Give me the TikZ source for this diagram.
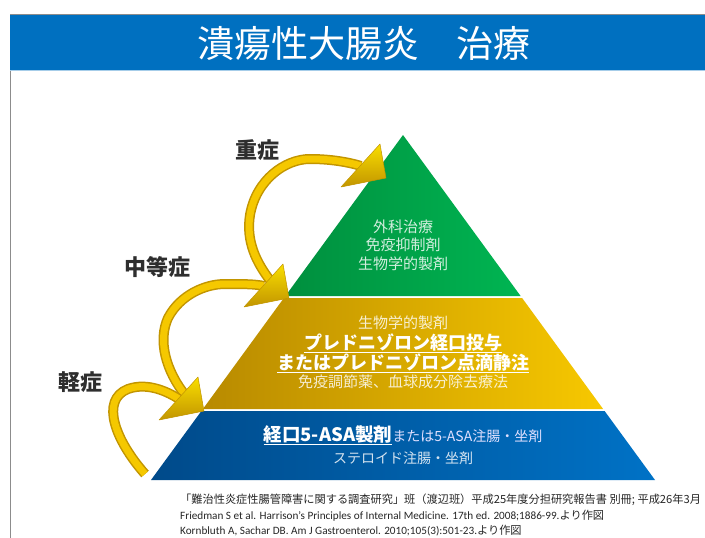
\documentclass[tikz,border=0pt]{standalone}
\usepackage{fontspec}
\setmainfont{Carlito}
\newfontfamily\jp{Noto Sans CJK JP}
\usetikzlibrary{calc}
\definecolor{titleblue}{HTML}{0070C0}
\definecolor{greenA}{HTML}{008F3E}
\definecolor{greenB}{HTML}{00B552}
\definecolor{goldA}{HTML}{B88A00}
\definecolor{goldB}{HTML}{F7C800}
\definecolor{blueA}{HTML}{004A8A}
\definecolor{blueB}{HTML}{0072C6}
\definecolor{arrlight}{HTML}{F5C800}
\definecolor{arrdark}{HTML}{C29500}
\definecolor{labelgray}{HTML}{2E2E2E}
\tikzset{
  titletext/.style={text=white, font=\jp\fontsize{37}{40}\selectfont, inner sep=0pt},
  lighttext/.style={text=white, text opacity=0.82, font=\jp\fontsize{15}{18.5}\selectfont, align=center, inner sep=0pt},
  boldtext/.style={text=white, font=\jp\bfseries\fontsize{18}{20}\selectfont, inner sep=0pt},
  bluetext/.style={text=white, inner sep=0pt},
  sevlabel/.style={text=labelgray, font=\jp\bfseries\fontsize{22}{24}\selectfont, inner sep=0pt},
  foot/.style={text=black!85, anchor=west, inner sep=0pt, font=\fontsize{11.2}{12}\selectfont},
  arrbody/.style={draw=arrdark, line width=1.5pt, double=arrlight, double distance=7pt},
  arrhead/.style={top color=arrlight!60!yellow, bottom color=arrdark, draw=arrdark, line width=0.5pt, line join=round}
}
\begin{document}
\begin{tikzpicture}[x=1pt,y=-1pt]
\useasboundingbox (0,0) rectangle (705,538);
\fill[white] (0,0) rectangle (705,538);
% slide frame and title bar
\draw[black!45, line width=0.8pt] (10,538) -- (10,14) -- (705,14);
\fill[titleblue] (10,15) rectangle (705,70);
\draw[titleblue!35, line width=1.2pt] (10,70.6) -- (705,70.6);
\node[titletext] (title) at (364,43) {潰瘍性大腸炎　治療};

% pyramid
\coordinate (apex) at (403,135);
\shade[left color=greenA, right color=greenB] (apex) -- (285.4,296) -- (520.6,296) -- cycle;
\shade[left color=goldA, right color=goldB] (283.9,298) -- (522.1,298) -- (603.1,409) -- (202.9,409) -- cycle;
\shade[left color=blueA, right color=blueB] (201.4,411) -- (604.6,411) -- (655,480) -- (151,480) -- cycle;

% texts in pyramid
\node[lighttext] (gtext) at (403,245) {外科治療\\免疫抑制剤\\生物学的製剤};
\node[lighttext] (o1) at (403,323) {生物学的製剤};
\node[boldtext] (o2) at (403,343) {\underline{プレドニゾロン経口投与}};
\node[boldtext] (o3) at (403,363) {\underline{またはプレドニゾロン点滴静注}};
\node[lighttext] (o4) at (403,382) {免疫調節薬、血球成分除去療法};
\node[bluetext] (b1) at (403,435) {{\jp\bfseries\fontsize{18.5}{20}\selectfont\underline{経口5-ASA製剤}}{\jp\fontsize{14}{16}\selectfont\color{white!88!blue}または5-ASA注腸・坐剤}};
\node[lighttext, font=\jp\fontsize{14}{16}\selectfont] (b2) at (403,458) {ステロイド注腸・坐剤};

% severity labels
\node[sevlabel] (sev) at (257,150) {重症};
\node[sevlabel] (mod) at (157,267) {中等症};
\node[sevlabel] (mild) at (80,382) {軽症};

% arrows: tips
\coordinate (p3) at (386,178);
\coordinate (p2) at (289,298);
\coordinate (p1) at (204,411);
\coordinate (t3) at (273,284);
\coordinate (t2) at (186,396);
\coordinate (t1) at (145,474);
\coordinate (m3) at ($(p3)+(-25,-12)$);
\coordinate (m2) at ($(p2)+(-25,-12)$);
\coordinate (m1) at ($(p1)+(-25,-12)$);

% arrow 3 (severe)
\draw[arrbody] (t3) .. controls (255,262) and (246,240) .. (250,215) .. controls (256,180) and (285,159) .. (310,159) .. controls (330,159) and (348,162) .. (m3);
\path[arrhead] (p3) -- ++(-6,-34) -- ++(-39,43) -- cycle;
% arrow 2 (moderate)
\draw[arrbody] (t2) .. controls (165,370) and (158,340) .. (168,318) .. controls (180,295) and (205,284) .. (225,284) .. controls (242,284) and (255,284) .. (m2);
\path[arrhead] (p2) -- ++(-6,-34) -- ++(-39,43) -- cycle;
% arrow 1 (mild)
\draw[arrbody] (t1) .. controls (115,440) and (100,400) .. (128,389) .. controls (148,382) and (168,392) .. (m1);
\path[arrhead] (p1) -- ++(-6,-34) -- ++(-39,43) -- cycle;

% footnotes
\node[foot] (f1) at (180,500) {\jp\fontsize{11.2}{12}\selectfont 「難治性炎症性腸管障害に関する調査研究」班（渡辺班）平成25年度分担研究報告書 別冊; 平成26年3月};
\node[foot] (f2) at (180,516) {Friedman S et al. Harrison’s Principles of Internal Medicine. 17th ed. 2008;1886-99.{\jp より作図}};
\node[foot] (f3) at (180,531) {Kornbluth A, Sachar DB. Am J Gastroenterol. 2010;105(3):501-23.{\jp より作図}};
\end{tikzpicture}
\end{document}
